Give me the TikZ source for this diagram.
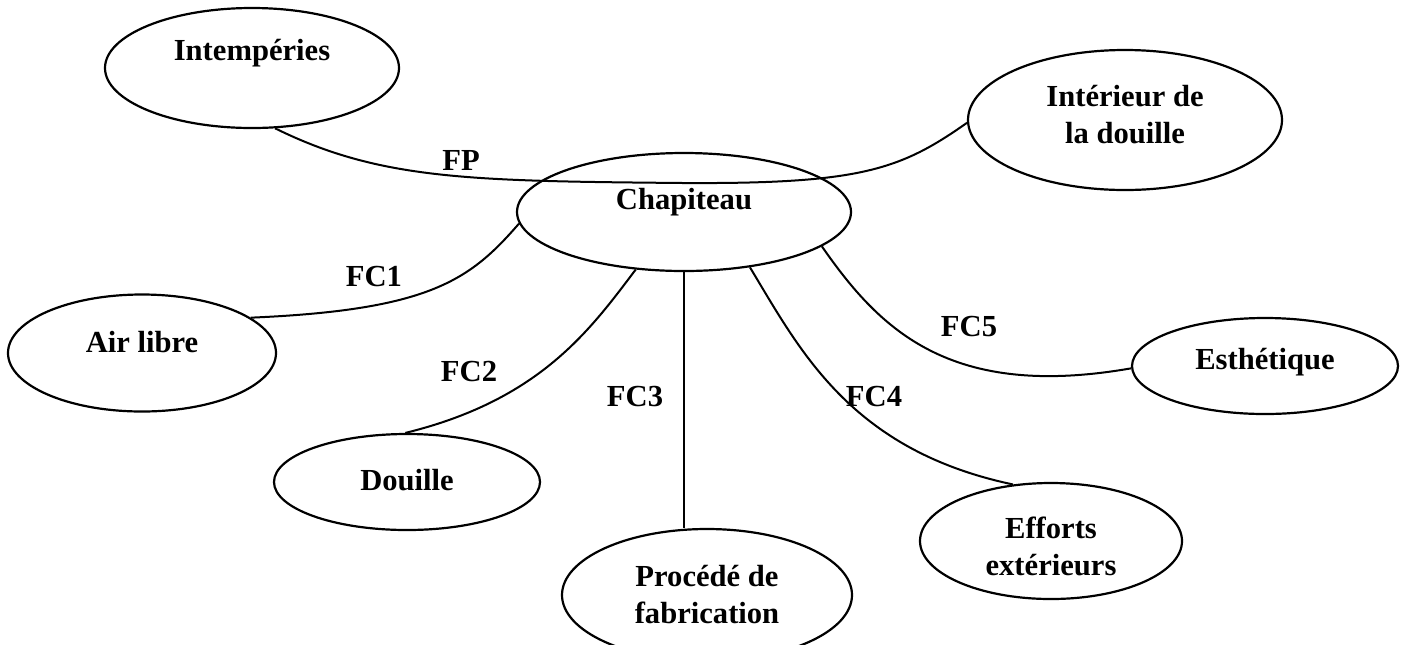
\documentclass[tikz,border=0pt]{standalone}
\usepackage{fontspec}
\setmainfont{Liberation Serif}
\usetikzlibrary{shapes.geometric}
\begin{document}
\begin{tikzpicture}[x=0.5pt,y=-0.5pt,
  oval/.style={draw, ellipse, inner sep=0pt, line width=1.1pt},
  txt/.style={font=\fontsize{15.3}{18.5}\selectfont\bfseries, align=center, inner sep=0pt},
  conn/.style={line width=1pt}]
\useasboundingbox (0,0) rectangle (1407,644);

% ellipses
\node[oval, minimum width=147pt, minimum height=60pt,
  label={[txt,yshift=7.5pt]center:Intempéries}] (intemp) at (252,68) {};
\node[oval, minimum width=157pt, minimum height=70pt,
  label={[txt,yshift=2.5pt]center:Intérieur de\\la douille}] (intdou) at (1125,120) {};
\node[oval, minimum width=167pt, minimum height=59pt,
  label={[txt,yshift=5pt]center:Chapiteau}] (chap) at (684,212) {};
\node[oval, minimum width=134pt, minimum height=58.5pt,
  label={[txt,yshift=5.5pt]center:Air libre}] (airl) at (142,353) {};
\node[oval, minimum width=133pt, minimum height=48pt,
  label={[txt,yshift=2pt]center:Esthétique}] (esth) at (1265,366) {};
\node[oval, minimum width=133pt, minimum height=48pt,
  label={[txt,yshift=1pt]center:Douille}] (douil) at (407,482) {};
\node[oval, minimum width=145pt, minimum height=66pt,
  label={[txt]center:Procédé de\\fabrication}] (proc) at (707,595) {};
\node[oval, minimum width=131pt, minimum height=58pt,
  label={[txt,yshift=-2.5pt]center:Efforts\\extérieurs}] (eff) at (1051,541) {};

% connectors
\draw[conn] (intemp.-69) .. controls (380,180) and (470,181) .. (683,183)
  .. controls (860,184) and (900,170) .. (intdou.181);
\draw[conn] (chap.184) .. controls (470,280) and (430,310) .. (airl.18);
\draw[conn] (chap.230) .. controls (590,330) and (540,400) .. (douil.92);
\draw[conn] (chap.south) -- (chap.south |- proc.north);
\draw[conn] (chap.-40) .. controls (800,350) and (850,450) .. (eff.124);
\draw[conn] (chap.-14) .. controls (880,330) and (950,400) .. (esth.181);

% labels
\node[txt] (lfp) at (461,160) {FP};
\node[txt] (lfc1) at (374,277) {FC1};
\node[txt] (lfc2) at (469,372) {FC2};
\node[txt] (lfc3) at (635,397) {FC3};
\node[txt] (lfc4) at (874,397) {FC4};
\node[txt] (lfc5) at (969,327) {FC5};
\end{tikzpicture}
\end{document}
